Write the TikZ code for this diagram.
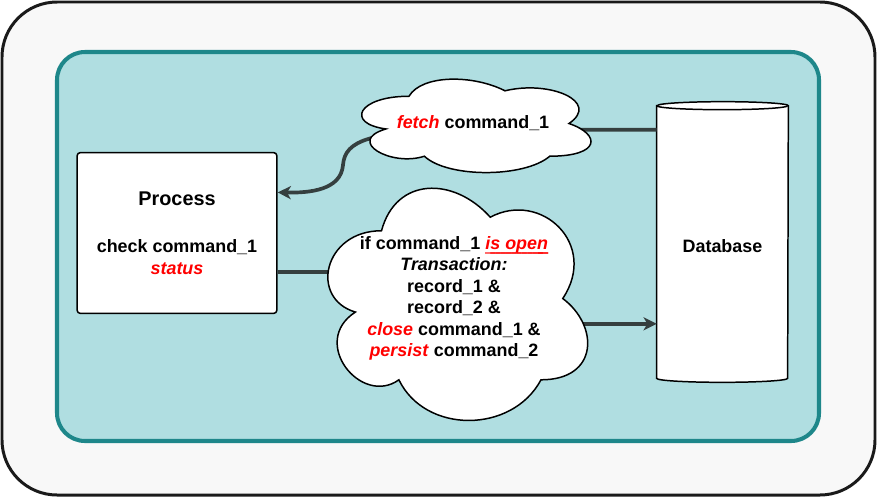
\documentclass[tikz,border=0pt]{standalone}
\usepackage{fontspec}
\setmainfont{Liberation Sans}
\usetikzlibrary{calc,arrows.meta}

\definecolor{panelFill}{HTML}{F8F8F8}
\definecolor{panelBorder}{HTML}{1A1A1A}
\definecolor{areaFill}{HTML}{B0DEE1}
\definecolor{areaBorder}{HTML}{1E878A}
\definecolor{linkGrey}{HTML}{353F3F}

\pgfdeclarelayer{bg}
\pgfsetlayers{bg,main}

\newcommand{\bodyFont}{\fontsize{10.2}{12.2}\selectfont\bfseries}
\newcommand{\redWord}[1]{\textcolor{red}{\textit{#1}}}
\newsavebox{\ulBox}
\newcommand{\redUnder}[1]{\sbox{\ulBox}{\color{red}\textit{#1}}%
  \rlap{\color{red}\mdseries\raisebox{-0.6pt}{\hbox to \wd\ulBox{%
    \leaders\hbox to 3pt{\rlap{\_}\hss}\hfill\llap{\_}}}}\usebox{\ulBox}}

%% cloud: name, left, top, width, height, text
\newcommand{\cloudNode}[6]{%
  \draw[cloudDecorate]
    ({#2+0.25*#4},{#3+0.25*#5})
    .. controls ({#2+0.05*#4},{#3+0.25*#5}) and ({#2},{#3+0.5*#5}) .. ({#2+0.16*#4},{#3+0.55*#5})
    .. controls ({#2},{#3+0.66*#5}) and ({#2+0.18*#4},{#3+0.9*#5}) .. ({#2+0.31*#4},{#3+0.8*#5})
    .. controls ({#2+0.4*#4},{#3+#5}) and ({#2+0.7*#4},{#3+#5}) .. ({#2+0.8*#4},{#3+0.8*#5})
    .. controls ({#2+#4},{#3+0.8*#5}) and ({#2+#4},{#3+0.6*#5}) .. ({#2+0.875*#4},{#3+0.5*#5})
    .. controls ({#2+#4},{#3+0.3*#5}) and ({#2+0.8*#4},{#3+0.1*#5}) .. ({#2+0.625*#4},{#3+0.2*#5})
    .. controls ({#2+0.5*#4},{#3+0.05*#5}) and ({#2+0.3*#4},{#3+0.05*#5}) .. cycle;
  \node (#1) at ({#2+0.5*#4},{#3+0.5*#5}) [textDecorate] {#6};
}

\begin{document}
\begin{tikzpicture}
[x=0.02cm, y=-0.02cm,
  textDecorate/.style={align=center, font=\bodyFont, inner sep=0pt},
  boxDecorate/.style={draw, fill=white, line width=0.85pt, rounded corners=2pt,
    minimum width=4cm, minimum height=3.22cm, textDecorate},
  dbDecorate/.style={draw, fill=white, line width=0.85pt},
  cloudDecorate/.style={draw, fill=white, line width=0.85pt},
  lineDecorate/.style={draw=linkGrey, line width=2.1pt,
    -{Stealth[length=7.5pt, width=7.5pt, inset=2.2pt]}}]
\useasboundingbox (0,0) rectangle (877,498);

%% nodes
\node (proc) at (177,233) [boxDecorate]
  {{\fontsize{11.3}{13}\selectfont Process}\\[15pt]
   check command\_1\\ \redWord{status}};
\node (db) at (722.5,242) [minimum width=2.62cm, minimum height=5.44cm, textDecorate,
  text height=11.7pt, text depth=0pt] {Database};

\begin{pgfonlayer}{bg}
%% panels
\draw[fill=panelFill, draw=panelBorder, line width=1.7pt, rounded corners=1.1cm]
  (2,2) rectangle (875,495);
\draw[fill=areaFill, draw=areaBorder, line width=2.3pt, rounded corners=0.56cm]
  (57,52) rectangle (819,441);
%% database cylinder
\draw[dbDecorate] (db.north west) -- (db.south west)
  arc[start angle=180, end angle=360, x radius=1.31cm, y radius=0.08cm]
  -- (db.north east)
  arc[start angle=0, end angle=180, x radius=1.31cm, y radius=0.08cm] -- cycle;
\draw[dbDecorate, fill=none] (db.north west)
  arc[start angle=180, end angle=360, x radius=1.31cm, y radius=0.08cm];
%% edges or lines
\draw[lineDecorate] ($(db.north west)!0.088!(db.south west)$) -- (470,130)
  .. controls (370,131) and (345,140) .. (343,165)
  .. controls (341,190) and (310,193) .. ($(proc.north east)!0.25!(proc.south east)$);
\draw[lineDecorate] ($(proc.north east)!0.74!(proc.south east)$) -| (455,300)
  |- ($(db.north west)!0.8!(db.south west)$);
\end{pgfonlayer}

%% clouds
\cloudNode{fetchCloud}{345}{69}{256}{109}{\redWord{fetch} command\_1}
\cloudNode{txCloud}{309}{163}{290}{271}
  {if command\_1 \redUnder{is open}\\ \textit{Transaction:}\\
   record\_1 \&\\ record\_2 \&\\ \redWord{close} command\_1 \&\\
   \redWord{persist} command\_2}
\end{tikzpicture}
\end{document}
